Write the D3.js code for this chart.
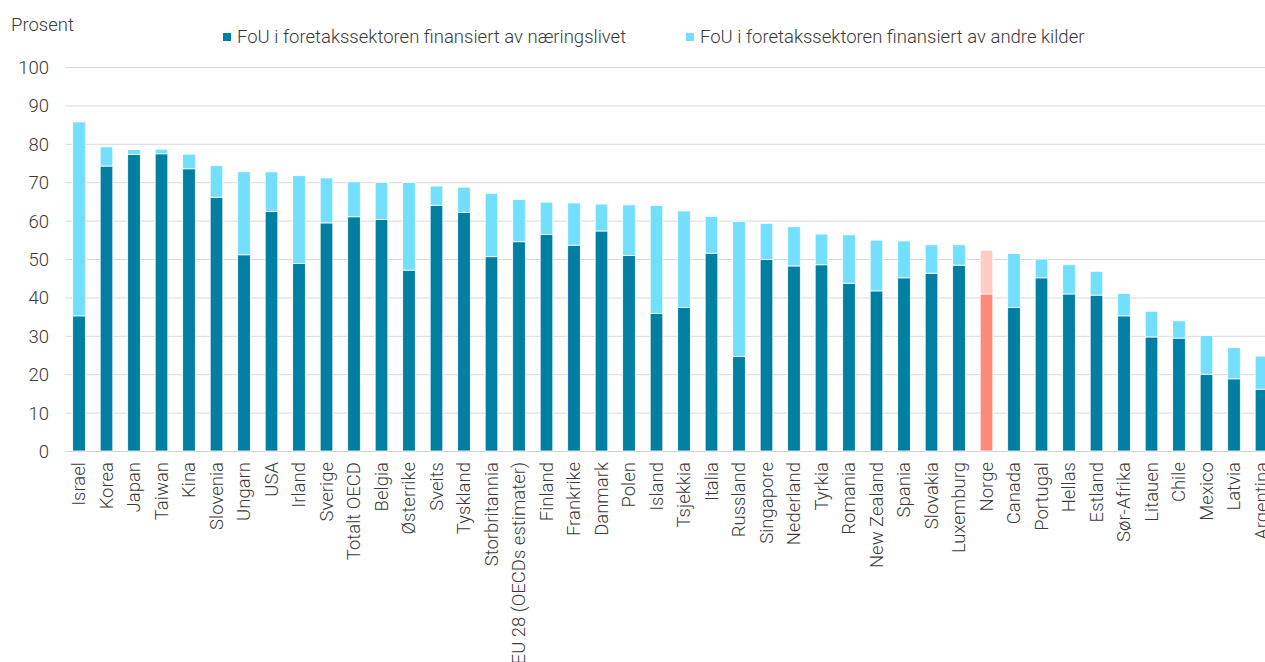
<!DOCTYPE html>
<html><head><meta charset="utf-8">
<script src="https://cdn.jsdelivr.net/npm/d3@7"></script>
<style>
body{margin:0;background:#fff;}
svg text{font-family:Roboto,"Liberation Sans",sans-serif;font-weight:300;fill:#3a3a3a;}
</style></head>
<body><svg id="c" width="1265" height="662"></svg>
<script>
const categories = ["Israel","Korea","Japan","Taiwan","Kina","Slovenia","Ungarn","USA","Irland","Sverige","Totalt OECD","Belgia","Østerrike","Sveits","Tyskland","Storbritannia","EU 28 (OECDs estimater)","Finland","Frankrike","Danmark","Polen","Island","Tsjekkia","Italia","Russland","Singapore","Nederland","Tyrkia","Romania","New Zealand","Spania","Slovakia","Luxemburg","Norge","Canada","Portugal","Hellas","Estland","Sør-Afrika","Litauen","Chile","Mexico","Latvia","Argentina"];
const business = [35.2,74.2,77.2,77.4,73.5,66.1,51.1,62.4,48.8,59.4,61.0,60.3,47.1,64.0,62.1,50.6,54.5,56.4,53.6,57.3,50.9,35.8,37.4,51.5,24.6,49.9,48.2,48.5,43.7,41.7,45.1,46.3,48.4,40.9,37.4,45.1,40.9,40.6,35.2,29.7,29.4,20.0,18.8,16.1];
const totals = [85.7,79.2,78.5,78.6,77.3,74.3,72.7,72.7,71.7,71.1,70.1,69.9,69.9,69.0,68.7,67.1,65.5,64.8,64.6,64.3,64.1,63.9,62.5,61.1,59.8,59.3,58.4,56.5,56.3,54.9,54.7,53.7,53.7,52.3,51.4,50.0,48.5,46.8,41.0,36.4,33.9,30.1,26.9,24.7];
const other = totals.map((t,i)=>+(t-business[i]).toFixed(1));
const seriesNames = ["FoU i foretakssektoren finansiert av næringslivet","FoU i foretakssektoren finansiert av andre kilder"];
const yTicks = [0,10,20,30,40,50,60,70,80,90,100];
const highlight = "Norge";

const colors = {dark:"#007FA3", light:"#73DFFF", hiDark:"#FF8A78", hiLight:"#FFCCC4"};
const FS = 18.5;

const svg = d3.select("#c");
const left = 65.25, bandW = 27.5;
const x = d3.scaleBand().domain(categories).range([left, left + bandW*categories.length]).paddingInner(0.54).paddingOuter(0.27);
const y = d3.scaleLinear().domain([0,100]).range([451,67]);

// gridlines
svg.append("g").selectAll("line").data(yTicks).join("line")
  .attr("x1",left).attr("x2",1265)
  .attr("y1",d=>y(d)+0.5).attr("y2",d=>y(d)+0.5)
  .attr("stroke",d=>d===0?"#d0d0d0":"#d9d9d9").attr("stroke-width",1);

// y axis labels
const yAxis = svg.append("g").attr("transform",`translate(49,0)`)
  .call(d3.axisLeft(y).tickValues(yTicks).tickSize(0).tickPadding(0));
yAxis.select(".domain").remove();
yAxis.selectAll("text").attr("font-size",FS).attr("fill","#3a3a3a").style("font-family","Roboto").style("font-weight",300).attr("dy","0.35em");

// bars
const data = categories.map((c,i)=>({c, b:business[i], o:other[i]}));
const g = svg.append("g");
g.selectAll("rect.b").data(data).join("rect").attr("class","b")
  .attr("x",d=>x(d.c)).attr("width",x.bandwidth())
  .attr("y",d=>y(d.b)).attr("height",d=>y(0)-y(d.b))
  .attr("fill",d=>d.c===highlight?colors.hiDark:colors.dark)
  .attr("stroke","#fff").attr("stroke-width",0.8);
g.selectAll("rect.o").data(data).join("rect").attr("class","o")
  .attr("x",d=>x(d.c)).attr("width",x.bandwidth())
  .attr("y",d=>y(d.b+d.o)).attr("height",d=>y(d.b)-y(d.b+d.o))
  .attr("fill",d=>d.c===highlight?colors.hiLight:colors.light)
  .attr("stroke","#fff").attr("stroke-width",0.8);

// x labels
const xAxis = svg.append("g").attr("transform",`translate(0,451)`)
  .call(d3.axisBottom(x).tickSize(0).tickPadding(0));
xAxis.select(".domain").remove();
xAxis.selectAll("text")
  .attr("font-size",FS).style("font-family","Roboto").style("font-weight",300).attr("fill","#3a3a3a")
  .attr("text-anchor","end").attr("transform","rotate(-90)")
  .attr("x",-11).attr("y",0).attr("dy","0.35em");

// title
svg.append("text").attr("x",11).attr("y",31).attr("font-size",FS).text("Prosent");

// legend
const leg = [{x:223, c:colors.dark, t:seriesNames[0]},{x:686, c:colors.light, t:seriesNames[1]}];
const lg = svg.append("g").selectAll("g").data(leg).join("g");
lg.append("rect").attr("x",d=>d.x).attr("y",33).attr("width",8).attr("height",8).attr("fill",d=>d.c);
lg.append("text").attr("x",d=>d.x+14).attr("y",43).attr("font-size",FS).text(d=>d.t);
</script></body></html>
